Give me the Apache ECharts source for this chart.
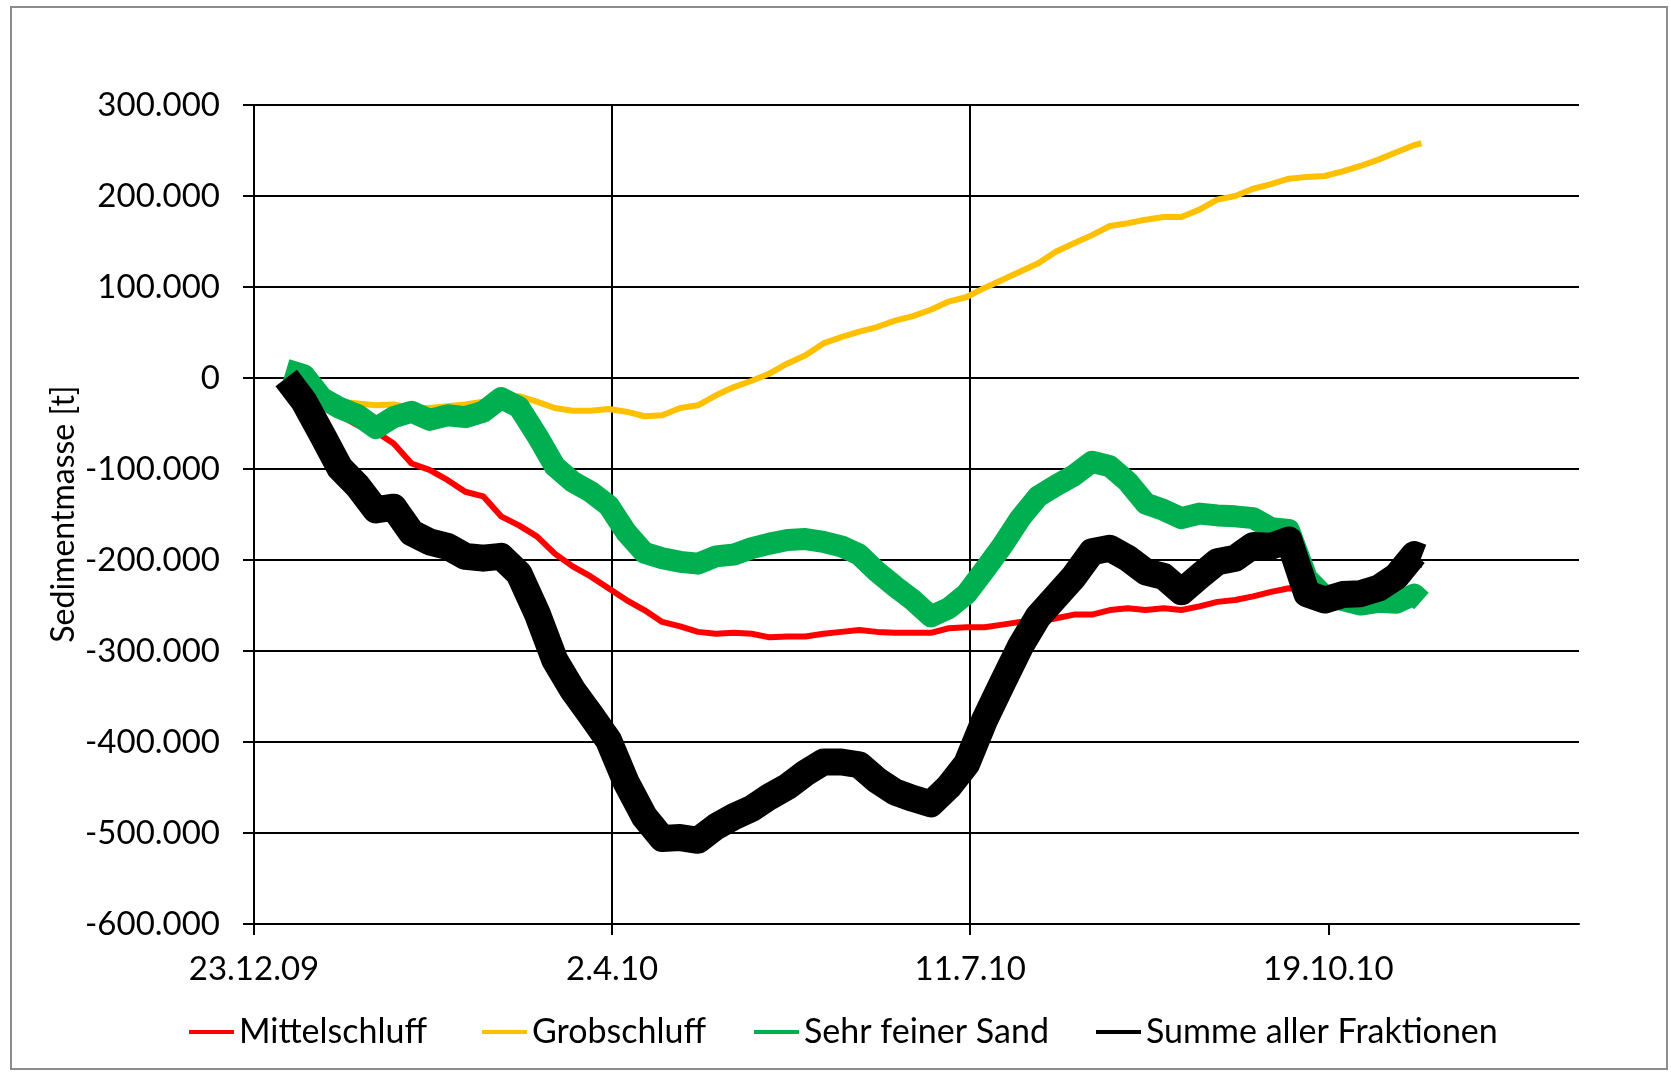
<!DOCTYPE html>
<html>
<head>
<meta charset="utf-8">
<title>Sedimentmasse</title>
<script src="https://cdn.jsdelivr.net/npm/echarts@6/dist/echarts.min.js"></script>
<style>
  html, body { margin: 0; padding: 0; background: #fff; }
  #chart { width: 1671px; height: 1072px; }
</style>
</head>
<body>
<div id="chart"></div>
<script>
// Days counted from 23.12.2009 (the first x tick)
const days = [9,14,19,24,29,34,39,44,49,54,59,64,69,74,79,84,89,94,99,104,109,114,119,124,129,134,139,144,149,154,159,164,169,174,179,184,189,194,199,204,209,214,219,224,229,234,239,244,249,254,259,264,269,274,279,284,289,294,299,304,309,314,319,324,326];

// Cumulative sediment mass in thousands of tonnes
const mittelschluff = [0,-25,-30,-41,-52,-59,-72,-94,-101,-112,-125,-130,-152,-162,-174,-193,-207,-218,-231,-244,-255,-268,-273,-279,-281,-280,-281,-285,-284,-284,-281,-279,-277,-279,-280,-280,-280,-275,-274,-274,-271,-268,-268,-264,-260,-260,-255,-253,-255,-253,-255,-251,-246,-244,-240,-235,-231,-233,-231,-229,-226,-221,-216,-207,-205];
const grobschluff = [0,-12,-22,-26,-28,-30,-29,-33,-33,-31,-29,-26,-22,-20,-26,-33,-36,-36,-34,-37,-42,-41,-33,-30,-19,-10,-3,5,16,25,38,45,51,56,63,68,75,84,89,99,108,117,126,139,148,157,167,170,174,177,177,185,196,200,208,213,219,221,222,227,233,240,248,256,258];
const sehrFeinerSand = [9,3,-22,-33,-41,-55,-43,-37,-46,-41,-43,-37,-22,-32,-63,-97,-114,-125,-140,-170,-192,-198,-202,-204,-196,-194,-187,-182,-178,-177,-180,-185,-194,-213,-229,-244,-262,-253,-237,-211,-184,-154,-130,-118,-107,-92,-97,-114,-138,-145,-154,-149,-151,-152,-154,-165,-167,-220,-240,-244,-249,-246,-247,-238,-245];
const summe = [0,-26,-62,-99,-119,-145,-142,-170,-180,-185,-196,-198,-196,-215,-258,-310,-343,-370,-398,-445,-482,-506,-505,-508,-493,-482,-473,-460,-449,-434,-422,-422,-425,-442,-455,-462,-468,-449,-424,-376,-335,-295,-262,-240,-218,-191,-187,-198,-213,-218,-235,-218,-202,-198,-184,-185,-178,-237,-244,-238,-237,-231,-218,-194,-197];

const seriesNames = ['Mittelschluff', 'Grobschluff', 'Sehr feiner Sand', 'Summe aller Fraktionen'];
const seriesValues = [mittelschluff, grobschluff, sehrFeinerSand, summe];

const tickDays = [0, 100, 200, 300];
const tickLabels = ['23.12.09', '2.4.10', '11.7.10', '19.10.10'];

const colors = ['#FF0000', '#FFC000', '#00B050', '#000000'];
const widths = [6, 6, 22, 27];
const FONT = 'Lato, "Open Sans", sans-serif';

function fmtThousands(v) {
  if (v === 0) return '0';
  const s = Math.abs(v).toString().replace(/\B(?=(\d{3})+(?!\d))/g, '.');
  return (v < 0 ? '-' : '') + s;
}

const chart = echarts.init(document.getElementById('chart'), null, { renderer: 'canvas' });

const series = seriesNames.map((name, i) => ({
  name: name,
  type: 'line',
  showSymbol: false,
  symbol: 'none',
  animation: false,
  lineStyle: { color: colors[i], width: widths[i], join: 'round', cap: 'butt' },
  itemStyle: { color: colors[i] },
  data: days.map((d, k) => [d, seriesValues[i][k] * 1000])
}));

// One legend block per series so each entry sits at its own spot
const legendLeft = [189, 482, 754, 1096];
const legends = seriesNames.map((name, i) => ({
  data: [name],
  left: legendLeft[i],
  top: 1015,
  padding: 0,
  icon: 'rect',
  itemWidth: 45,
  itemHeight: 4,
  selectedMode: false,
  textStyle: { fontFamily: FONT, fontSize: 34, color: '#000' }
}));

chart.setOption({
  backgroundColor: '#fff',
  animation: false,
  grid: { left: 254, top: 105, width: 1325, height: 819, containLabel: false },
  legend: legends,
  xAxis: {
    type: 'value',
    min: 0,
    max: 370,
    interval: 100,
    axisLine: { show: true, onZero: false, lineStyle: { color: '#000', width: 2 } },
    axisTick: { show: true, length: 11, customValues: tickDays, lineStyle: { color: '#000', width: 2 } },
    axisLabel: {
      customValues: tickDays,
      margin: 29,
      fontFamily: FONT,
      fontSize: 33,
      color: '#000',
      formatter: v => { const k = tickDays.indexOf(v); return k >= 0 ? tickLabels[k] : ''; }
    },
    splitLine: { show: true, showMaxLine: false, lineStyle: { color: '#000', width: 2 } }
  },
  yAxis: {
    type: 'value',
    min: -600000,
    max: 300000,
    interval: 100000,
    axisLine: { show: true, lineStyle: { color: '#000', width: 2 } },
    axisTick: { show: true, length: 11, lineStyle: { color: '#000', width: 2 } },
    axisLabel: { margin: 34, fontFamily: FONT, fontSize: 33, color: '#000', formatter: fmtThousands },
    splitLine: { show: true, lineStyle: { color: '#000', width: 2 } }
  },
  graphic: [
    {
      type: 'rect',
      shape: { x: 11, y: 7, width: 1656, height: 1062 },
      style: { fill: 'none', stroke: '#8c8c8c', lineWidth: 2 },
      silent: true
    },
    {
      type: 'text',
      x: 64,
      y: 514,
      rotation: Math.PI / 2,
      style: {
        text: 'Sedimentmasse [t]',
        font: '32px ' + FONT,
        fill: '#000',
        textAlign: 'center',
        textVerticalAlign: 'middle'
      },
      silent: true
    }
  ],
  series: series
});
</script>
</body>
</html>
